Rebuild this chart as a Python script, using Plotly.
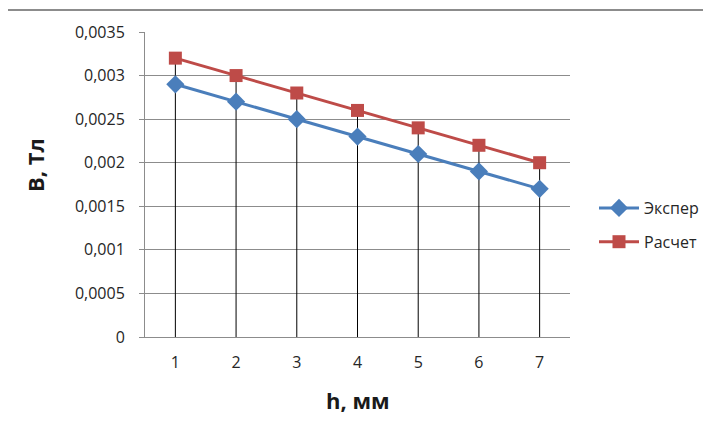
import plotly.graph_objects as go

h_mm = [1, 2, 3, 4, 5, 6, 7]
exper = [0.0029, 0.0027, 0.0025, 0.0023, 0.0021, 0.0019, 0.0017]
raschet = [0.0032, 0.0030, 0.0028, 0.0026, 0.0024, 0.0022, 0.0020]
y_ticks = [0, 0.0005, 0.001, 0.0015, 0.002, 0.0025, 0.003, 0.0035]

FONT = "Open Sans"

# drop lines from the highest point down to the axis
drop_x, drop_y = [], []
for xv, a, b in zip(h_mm, exper, raschet):
    drop_x += [xv, xv, None]
    drop_y += [0, max(a, b), None]

fig = go.Figure()
fig.add_trace(go.Scatter(x=drop_x, y=drop_y, mode="lines",
                         line=dict(color="black", width=1),
                         showlegend=False, hoverinfo="skip"))
fig.add_trace(go.Scatter(x=h_mm, y=exper, name="Экспер", mode="lines+markers",
                         legendgroup="a",
                         line=dict(color="#4A7EBB", width=3),
                         marker=dict(symbol="diamond", size=14, color="#4A7EBB")))
fig.add_trace(go.Scatter(x=h_mm, y=raschet, name="Расчет", mode="lines+markers",
                         legendgroup="b",
                         line=dict(color="#BE4B48", width=3),
                         marker=dict(symbol="square", size=13, color="#BE4B48")))

OFF = 8  # page offset of the figure inside the window
W, H = 711, 431
L, T = 145 - OFF, 32 - OFF
Rx, By = 570 - OFF, 337 - OFF
R, B = W - Rx, H - By
pw, ph = Rx - L, By - T

def px(x):
    return (x - OFF - L) / pw

def py(y):
    return (By - (y - OFF)) / ph

fig.update_layout(
    width=W, height=H,
    margin=dict(l=L, r=R, t=T, b=B, pad=0, autoexpand=False),
    paper_bgcolor="white", plot_bgcolor="white",
    separators=", ",
    font=dict(family=FONT, color="#262626", size=16),
    xaxis=dict(range=[0.5, 7.5], tickvals=h_mm, ticktext=[str(v) for v in h_mm],
               showgrid=False, zeroline=False, showline=True, linecolor="#8C8C8C",
               linewidth=1, ticks="", ticklabelstandoff=11),
    yaxis=dict(range=[0, 0.0035], tickvals=y_ticks, tickformat=".4~f",
               showgrid=True, gridcolor="#8C8C8C", gridwidth=1, zeroline=False,
               showline=True, linecolor="#8C8C8C", linewidth=1,
               ticks="outside", ticklen=5, tickcolor="#8C8C8C", ticklabelstandoff=11),
    legend=dict(x=px(594), y=py(225), xanchor="left", yanchor="middle",
                font=dict(size=16, family=FONT), itemwidth=40, tracegroupgap=10,
                traceorder="grouped", bgcolor="rgba(0,0,0,0)"),
    annotations=[
        dict(text="<b>B, Тл</b>", x=px(35), y=py(165), xref="paper", yref="paper",
             xanchor="center", yanchor="middle",
             textangle=-90, showarrow=False, font=dict(size=22, color="#1a1a1a")),
        dict(text="<b>h, мм</b>", x=px(358), y=py(400), xref="paper", yref="paper",
             xanchor="center", yanchor="middle",
             showarrow=False, font=dict(size=22, color="#1a1a1a")),
    ],
    shapes=[dict(type="rect", xref="paper", yref="paper",
                 x0=px(7), x1=px(760), y0=py(10), y1=py(480),
                 line=dict(color="#8C8C8C", width=2), layer="below")],
)

fig.write_html("out.html")
